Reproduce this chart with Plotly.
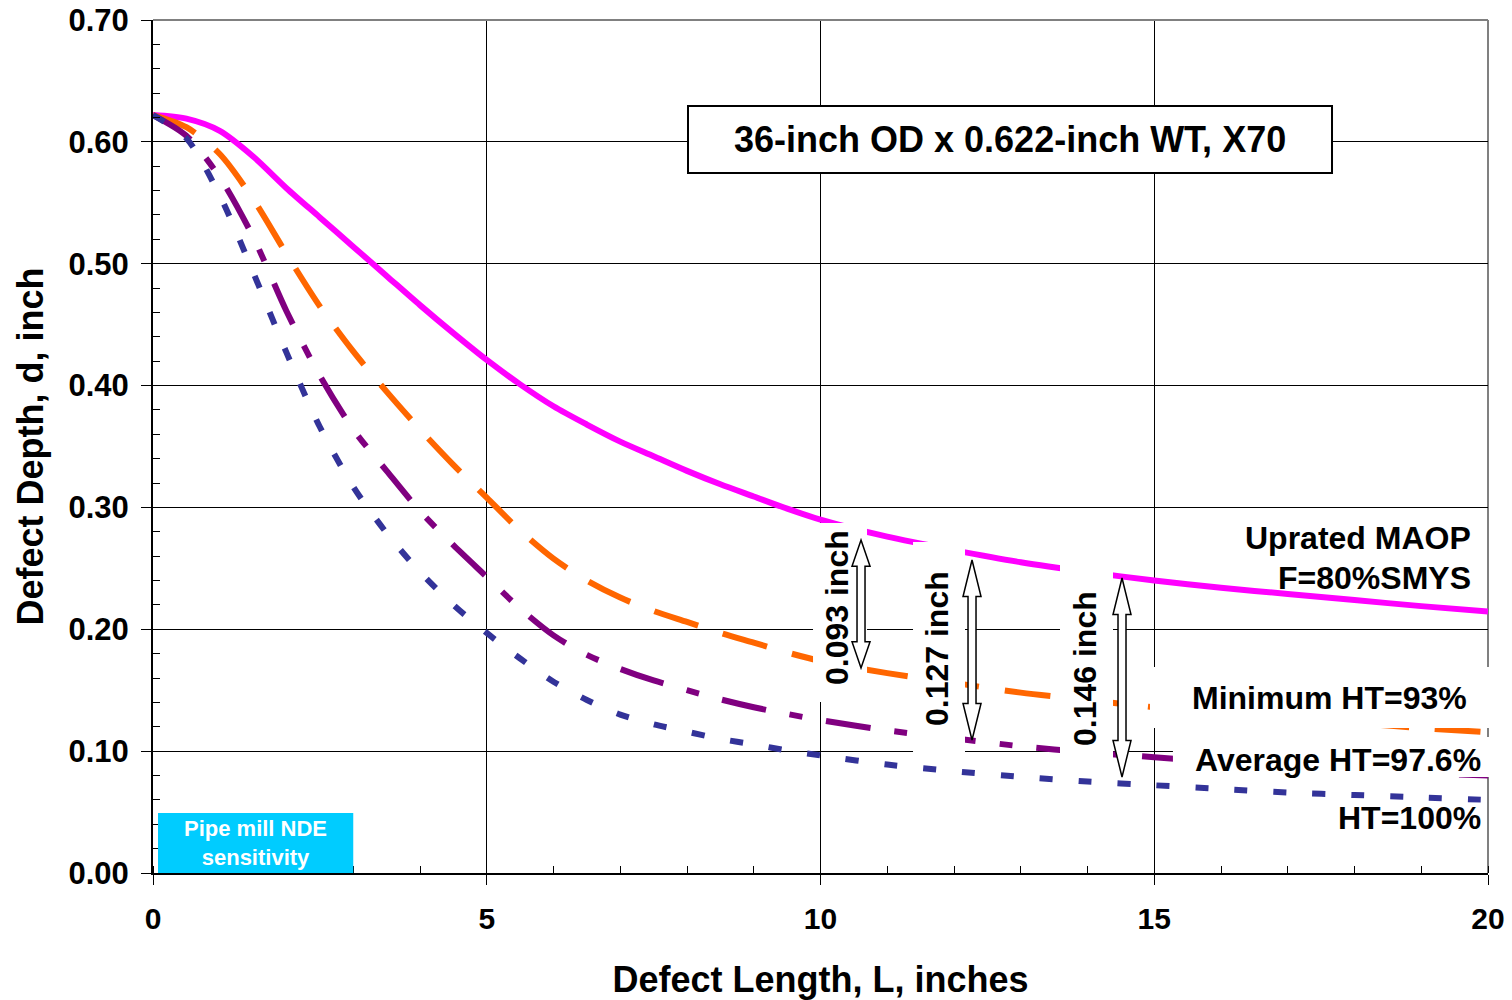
import plotly.graph_objects as go

# Defect length (inches) at which the critical depths were evaluated
length_in = [0, 0.5, 1, 1.5, 2, 2.5, 3, 3.5, 4, 4.5, 5, 5.5, 6, 6.5, 7, 7.5, 8,
             8.5, 9, 9.5, 10, 11, 12, 13, 14, 15, 16, 17, 18, 19, 20]

# Critical defect depth (inch) for each case
depth_uprated = [0.622, 0.619, 0.609, 0.588, 0.562, 0.538, 0.514, 0.490, 0.466,
                 0.443, 0.421, 0.401, 0.383, 0.368, 0.354, 0.342, 0.330, 0.319,
                 0.309, 0.299, 0.290, 0.276, 0.265, 0.255, 0.247, 0.240, 0.234,
                 0.229, 0.224, 0.219, 0.2145]
depth_min_ht = [0.622, 0.612, 0.590, 0.553, 0.508, 0.465, 0.428, 0.395, 0.364,
                0.335, 0.308, 0.281, 0.258, 0.240, 0.226, 0.215, 0.206, 0.197,
                0.189, 0.181, 0.174, 0.164, 0.156, 0.148, 0.142, 0.136, 0.131,
                0.127, 0.123, 0.119, 0.1155]
depth_avg_ht = [0.622, 0.605, 0.571, 0.522, 0.461, 0.408, 0.364, 0.330, 0.297,
                0.269, 0.243, 0.217, 0.195, 0.179, 0.1675, 0.158, 0.150, 0.1425,
                0.136, 0.1305, 0.1255, 0.117, 0.1105, 0.104, 0.099, 0.095, 0.091,
                0.088, 0.085, 0.082, 0.080]
depth_ht100 = [0.622, 0.603, 0.556, 0.493, 0.427, 0.366, 0.317, 0.279, 0.247,
               0.220, 0.197, 0.176, 0.157, 0.142, 0.130, 0.122, 0.116, 0.110,
               0.1055, 0.1005, 0.0965, 0.089, 0.0835, 0.079, 0.075, 0.072, 0.069,
               0.066, 0.064, 0.062, 0.060]

# Depth-margin call-outs: label, x position, top and bottom of the arrow
margin_labels = ["0.093 inch", "0.127 inch", "0.146 inch"]
margin_x = [10.607, 12.27, 14.517]
margin_top = [0.2733, 0.2569, 0.2421]
margin_bottom = [0.1682, 0.1091, 0.0788]

x_ticks = [0, 5, 10, 15, 20]
y_ticks = [0.0, 0.1, 0.2, 0.3, 0.4, 0.5, 0.6, 0.7]

FONT = "Liberation Sans, Arial, sans-serif"

fig = go.Figure()

series = [
    ("Uprated MAOP F=80%SMYS", depth_uprated, "#FF00FF", "solid"),
    ("Minimum HT=93%", depth_min_ht, "#FF6600", "46px,26px"),
    ("Average HT=97.6%", depth_avg_ht, "#800080", "45px,24px,13px,24px"),
    ("HT=100%", depth_ht100, "#333399", "13px,26px"),
]
for name, ys, color, dash in series:
    fig.add_trace(go.Scatter(
        x=length_in, y=ys, name=name, mode="lines",
        line=dict(color=color, width=6, dash=dash, shape="spline", smoothing=0.8),
        hoverinfo="x+y",
    ))

shapes = []
# white backing boxes behind the rotated call-out text
for (x0, x1, y0, y1) in [(9.888, 10.697, 0.1403, 0.2872),
                         (11.386, 12.165, 0.0993, 0.2716),
                         (13.588, 14.382, 0.0845, 0.2569)]:
    shapes.append(dict(type="rect", xref="x", yref="y", x0=x0, x1=x1, y0=y0, y1=y1,
                       fillcolor="white", line=dict(width=0), layer="above"))
# white backing boxes behind two of the curve labels
for (x0, x1, y0, y1) in [(0.7468, 1.015, 0.170, 0.2415),
                         (0.764, 1.005, 0.1125, 0.1594)]:
    shapes.append(dict(type="rect", xref="paper", yref="paper", x0=x0, x1=x1,
                       y0=y0, y1=y1, fillcolor="white", line=dict(width=0),
                       layer="above"))

# outlined double-headed arrows (x in pixels around the anchor, y in data units)
for xc, yt, yb in zip(margin_x, margin_top, margin_bottom):
    hl = 0.0215 if (yt - yb) < 0.12 else 0.030
    hw, sw = 9, 4
    path = (f"M 0,{yt} L {hw},{yt - hl} L {sw},{yt - hl} L {sw},{yb + hl} "
            f"L {hw},{yb + hl} L 0,{yb} L {-hw},{yb + hl} L {-sw},{yb + hl} "
            f"L {-sw},{yt - hl} L {-hw},{yt - hl} Z")
    shapes.append(dict(type="path", xref="x", yref="y", xsizemode="pixel",
                       xanchor=xc, path=path, fillcolor="white",
                       line=dict(color="black", width=1.5), layer="above"))

# pipe-mill NDE sensitivity band
shapes.append(dict(type="rect", xref="x", yref="y", x0=0.075, x1=3.0, y0=0, y1=0.0492,
                   fillcolor="#00CCFF", line=dict(width=0), layer="above"))
# title box
shapes.append(dict(type="rect", xref="x", yref="y", x0=8.015, x1=17.663,
                   y0=0.5744, y1=0.6294, fillcolor="white",
                   line=dict(color="black", width=2), layer="above"))
# light frame on the top and right sides of the plot
shapes.append(dict(type="line", xref="paper", yref="paper", x0=0, x1=1, y0=1, y1=1,
                   line=dict(color="#808080", width=2), layer="above"))
shapes.append(dict(type="line", xref="paper", yref="paper", x0=1, x1=1, y0=0, y1=1,
                   line=dict(color="#808080", width=2), layer="below"))

annotations = []
annotations.append(dict(xref="x", yref="y", x=12.84, y=0.602, showarrow=False,
                        text="36-inch OD x 0.622-inch WT, X70",
                        font=dict(family=FONT, size=36, color="black", weight="bold")))
annotations.append(dict(xref="x", yref="y", x=1.53, y=0.0246, showarrow=False,
                        text="Pipe mill NDE<br>sensitivity",
                        font=dict(family=FONT, size=22, color="white", weight="bold")))
rot_pos = [(837, 608), (937, 649), (1085, 669)]
for text, (px, py) in zip(margin_labels, rot_pos):
    annotations.append(dict(xref="x", yref="y", x=(px - 153) / 66.75,
                            y=(873 - py) / 1218.6, showarrow=False, textangle=-90,
                            text=text,
                            font=dict(family=FONT, size=32, color="black",
                                      weight="bold")))
curve_labels = [("Uprated MAOP", 1473, 538), ("F=80%SMYS", 1473, 578),
                ("Minimum HT=93%", 1469, 698), ("Average HT=97.6%", 1483, 760),
                ("HT=100%", 1483, 818)]
for text, px, py in curve_labels:
    annotations.append(dict(xref="paper", yref="paper", x=(px - 153) / 1335,
                            y=(873 - py) / 853, xanchor="right", yanchor="middle",
                            showarrow=False, text=text,
                            font=dict(family=FONT, size=32, color="black",
                                      weight="bold")))

fig.update_layout(
    width=1512, height=1000,
    margin=dict(l=153, r=24, t=20, b=127),
    paper_bgcolor="white", plot_bgcolor="white",
    showlegend=False,
    font=dict(family=FONT, color="black", weight="bold"),
    shapes=shapes, annotations=annotations,
)
fig.update_xaxes(
    range=[0, 20], tickvals=x_ticks, ticktext=[str(v) for v in x_ticks],
    automargin=False,
    ticks="outside", ticklen=10, tickwidth=1, tickcolor="black",
    ticklabelstandoff=8,
    showgrid=True, gridcolor="black", gridwidth=1,
    showline=True, linecolor="black", linewidth=2,
    zeroline=False,
    minor=dict(dtick=1, ticks="inside", ticklen=7, tickcolor="black", tickwidth=1,
               showgrid=False),
    tickfont=dict(family=FONT, size=30, color="black", weight="bold"),
    title=dict(text="Defect Length, L, inches", standoff=34,
               font=dict(family=FONT, size=36, color="black", weight="bold")),
)
fig.update_yaxes(
    range=[0, 0.7], tickvals=y_ticks, ticktext=[f"{v:.2f}" for v in y_ticks],
    automargin=False,
    ticks="outside", ticklen=10, tickwidth=1, tickcolor="black",
    ticklabelstandoff=6,
    showgrid=True, gridcolor="black", gridwidth=1,
    showline=True, linecolor="black", linewidth=2,
    zeroline=False,
    minor=dict(dtick=0.02, tick0=0, ticks="inside", ticklen=7, tickcolor="black",
               tickwidth=1, showgrid=False),
    tickfont=dict(family=FONT, size=31, color="black", weight="bold"),
    title=dict(text="Defect Depth, d, inch", standoff=14,
               font=dict(family=FONT, size=36, color="black", weight="bold")),
)

fig.write_html("out.html")
